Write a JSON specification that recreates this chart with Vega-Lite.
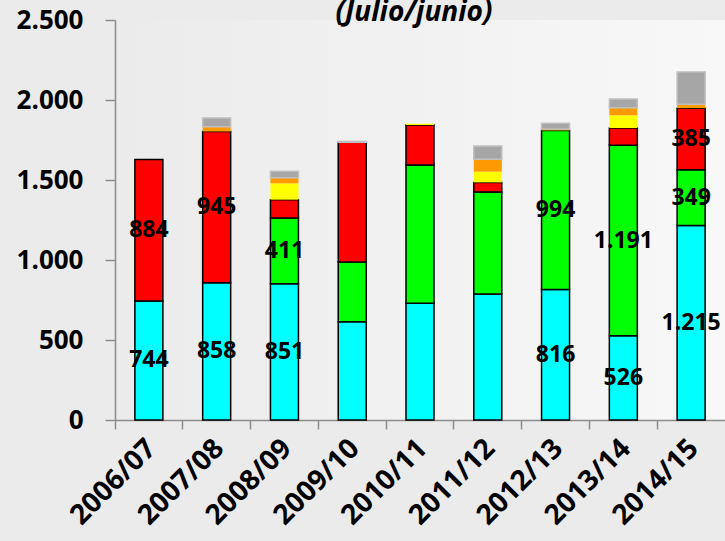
{
  "$schema": "https://vega.github.io/schema/vega-lite/v6.json",
  "autosize": "none",
  "width": 610,
  "height": 400,
  "padding": {"left": 115, "top": 20, "right": 0, "bottom": 121},
  "background": "#ebebeb",
  "title": {"text": "(Julio/junio)", "font": "Open Sans", "fontSize": 28, "fontWeight": "bold", "fontStyle": "italic", "color": "#000000", "anchor": "middle", "dx": -6, "baseline": "alphabetic", "offset": -42},
  "config": {
    "locale": {"number": {"decimal": ",", "thousands": ".", "grouping": [3], "currency": ["", " €"]}},
    "view": {"stroke": null, "fill": {"gradient": "linear", "x1": 0, "y1": 0, "x2": 1, "y2": 0, "stops": [{"offset": 0, "color": "#ebebeb"}, {"offset": 1, "color": "#f8f8f8"}]}},
    "axis": {"grid": false, "domainColor": "#8c8c8c", "tickColor": "#8c8c8c", "domainWidth": 1.5, "tickWidth": 1.5, "labelFont": "Open Sans", "labelFontWeight": "bold", "labelFontSize": 26, "labelColor": "#000000", "title": null}
  },
  "data": {
    "values": [
      {"campana": "2006/07", "serie": "Serie 1", "valor": 744, "etiqueta": true},
      {"campana": "2006/07", "serie": "Serie 3", "valor": 884, "etiqueta": true},
      {"campana": "2007/08", "serie": "Serie 1", "valor": 858, "etiqueta": true},
      {"campana": "2007/08", "serie": "Serie 3", "valor": 945, "etiqueta": true},
      {"campana": "2007/08", "serie": "Serie 5", "valor": 30, "etiqueta": false},
      {"campana": "2007/08", "serie": "Serie 6", "valor": 55, "etiqueta": false},
      {"campana": "2008/09", "serie": "Serie 1", "valor": 851, "etiqueta": true},
      {"campana": "2008/09", "serie": "Serie 2", "valor": 411, "etiqueta": true},
      {"campana": "2008/09", "serie": "Serie 3", "valor": 115, "etiqueta": false},
      {"campana": "2008/09", "serie": "Serie 4", "valor": 102, "etiqueta": false},
      {"campana": "2008/09", "serie": "Serie 5", "valor": 35, "etiqueta": false},
      {"campana": "2008/09", "serie": "Serie 6", "valor": 40, "etiqueta": false},
      {"campana": "2009/10", "serie": "Serie 1", "valor": 614, "etiqueta": false},
      {"campana": "2009/10", "serie": "Serie 2", "valor": 373, "etiqueta": false},
      {"campana": "2009/10", "serie": "Serie 3", "valor": 749, "etiqueta": false},
      {"campana": "2009/10", "serie": "Serie 6", "valor": 5, "etiqueta": false},
      {"campana": "2010/11", "serie": "Serie 1", "valor": 730, "etiqueta": false},
      {"campana": "2010/11", "serie": "Serie 2", "valor": 864, "etiqueta": false},
      {"campana": "2010/11", "serie": "Serie 3", "valor": 250, "etiqueta": false},
      {"campana": "2010/11", "serie": "Serie 4", "valor": 8, "etiqueta": false},
      {"campana": "2011/12", "serie": "Serie 1", "valor": 787, "etiqueta": false},
      {"campana": "2011/12", "serie": "Serie 2", "valor": 638, "etiqueta": false},
      {"campana": "2011/12", "serie": "Serie 3", "valor": 60, "etiqueta": false},
      {"campana": "2011/12", "serie": "Serie 4", "valor": 67, "etiqueta": false},
      {"campana": "2011/12", "serie": "Serie 5", "valor": 77, "etiqueta": false},
      {"campana": "2011/12", "serie": "Serie 6", "valor": 83, "etiqueta": false},
      {"campana": "2012/13", "serie": "Serie 1", "valor": 816, "etiqueta": true},
      {"campana": "2012/13", "serie": "Serie 2", "valor": 994, "etiqueta": true},
      {"campana": "2012/13", "serie": "Serie 4", "valor": 3, "etiqueta": false},
      {"campana": "2012/13", "serie": "Serie 5", "valor": 5, "etiqueta": false},
      {"campana": "2012/13", "serie": "Serie 6", "valor": 37, "etiqueta": false},
      {"campana": "2013/14", "serie": "Serie 1", "valor": 526, "etiqueta": true},
      {"campana": "2013/14", "serie": "Serie 2", "valor": 1191, "etiqueta": true},
      {"campana": "2013/14", "serie": "Serie 3", "valor": 108, "etiqueta": false},
      {"campana": "2013/14", "serie": "Serie 4", "valor": 79, "etiqueta": false},
      {"campana": "2013/14", "serie": "Serie 5", "valor": 48, "etiqueta": false},
      {"campana": "2013/14", "serie": "Serie 6", "valor": 54, "etiqueta": false},
      {"campana": "2014/15", "serie": "Serie 1", "valor": 1215, "etiqueta": true},
      {"campana": "2014/15", "serie": "Serie 2", "valor": 349, "etiqueta": true},
      {"campana": "2014/15", "serie": "Serie 3", "valor": 385, "etiqueta": true},
      {"campana": "2014/15", "serie": "Serie 5", "valor": 25, "etiqueta": false},
      {"campana": "2014/15", "serie": "Serie 6", "valor": 201, "etiqueta": false}
    ]
  },
  "resolve": {"axis": {"x": "independent"}},
  "layer": [
    {
      "mark": {"type": "bar", "strokeWidth": 1.5, "size": 28},
      "encoding": {
        "x": {"field": "campana", "type": "nominal", "scale": {"paddingInner": 0, "paddingOuter": 0},
              "axis": {"orient": "bottom", "labels": false, "ticks": true, "tickSize": 9, "bandPosition": 0, "domain": true}},
        "y": {"field": "valor", "type": "quantitative", "stack": "zero",
              "scale": {"domain": [0, 2500], "nice": false},
              "axis": {"values": [0, 500, 1000, 1500, 2000, 2500], "format": ",d", "tickSize": 10, "labelPadding": 22}},
        "color": {"field": "serie", "type": "nominal", "legend": null,
                  "scale": {"domain": ["Serie 1", "Serie 2", "Serie 3", "Serie 4", "Serie 5", "Serie 6"],
                            "range": ["#00ffff", "#00ff00", "#ff0000", "#ffff00", "#ff9900", "#a6a6a6"]}},
        "stroke": {"field": "serie", "type": "nominal", "legend": null,
                   "scale": {"domain": ["Serie 1", "Serie 2", "Serie 3", "Serie 4", "Serie 5", "Serie 6"],
                             "range": ["#000000", "#000000", "#000000", "transparent", "transparent", "#c0c0c0"]}},
        "order": {"field": "serie"}
      }
    },
    {
      "mark": {"type": "text", "font": "Open Sans", "fontWeight": "bold", "fontSize": 23, "color": "#000000", "baseline": "middle", "align": "center"},
      "encoding": {
        "x": {"field": "campana", "type": "nominal",
              "axis": {"orient": "bottom", "ticks": false, "domain": false, "labelAngle": -45, "labelAlign": "right", "labelBaseline": "middle", "labelPadding": 24, "labelOffset": 3, "labelFontSize": 28}},
        "y": {"field": "valor", "type": "quantitative", "stack": "zero", "bandPosition": 0.5},
        "detail": {"field": "serie"},
        "order": {"field": "serie"},
        "text": {"condition": {"test": "datum.etiqueta", "field": "valor", "type": "quantitative", "format": ",d"}, "value": ""}
      }
    }
  ]
}
